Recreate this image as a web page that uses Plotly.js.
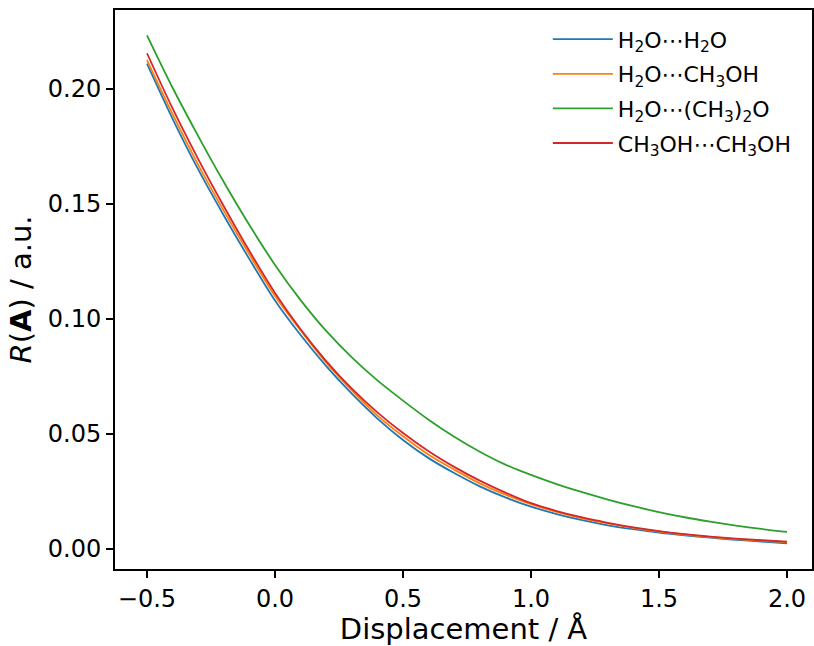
<!DOCTYPE html>
<html>
<head>
<meta charset="utf-8">
<script src="https://cdn.plot.ly/plotly-3.0.1.min.js"></script>
<style>html,body{margin:0;padding:0;background:#fff;}#chart{width:814px;height:646px;}</style>
</head>
<body>
<div id="chart"></div>
<script>
const displacement = [-0.5,-0.4,-0.3,-0.2,-0.1,0.0,0.1,0.2,0.3,0.4,0.5,0.6,0.7,0.8,0.9,1.0,1.1,1.2,1.3,1.4,1.5,1.6,1.7,1.8,1.9,2.0];

const waterWater = [0.211,0.187,0.165,0.145,0.126,0.108,0.093,0.0795,0.0675,0.0567,0.0474,0.0395,0.033,0.0272,0.0224,0.0184,0.0152,0.0125,0.0103,0.0086,0.0071,0.0059,0.0049,0.0040,0.0032,0.0025];
const waterMethanol = [0.2125,0.189,0.167,0.147,0.128,0.110,0.095,0.081,0.069,0.058,0.049,0.041,0.0345,0.0285,0.0236,0.0195,0.0161,0.0133,0.0111,0.0092,0.0076,0.0063,0.0052,0.0043,0.0036,0.0030];
const waterDME = [0.2233,0.2005,0.1795,0.1595,0.1408,0.1235,0.1082,0.0948,0.0833,0.0733,0.0645,0.0562,0.0488,0.0423,0.0367,0.0322,0.0282,0.0247,0.0215,0.0186,0.016,0.0138,0.0119,0.0102,0.0087,0.0074];
const methanolMethanol = [0.2155,0.1915,0.1695,0.149,0.1295,0.1113,0.0955,0.0817,0.0697,0.0594,0.0504,0.0425,0.0357,0.0297,0.0245,0.0199,0.0165,0.0137,0.0114,0.0094,0.0078,0.0065,0.0054,0.0045,0.0038,0.0032];

const seriesNames = [
  "H<sub>2</sub>O⋯H<sub>2</sub>O",
  "H<sub>2</sub>O⋯CH<sub>3</sub>OH",
  "H<sub>2</sub>O⋯(CH<sub>3</sub>)<sub>2</sub>O",
  "CH<sub>3</sub>OH⋯CH<sub>3</sub>OH"
];
const seriesValues = [waterWater, waterMethanol, waterDME, methanolMethanol];
const colors = ["#1f77b4","#ff7f0e","#2ca02c","#d62728"];

const xTicks = [-0.5,0.0,0.5,1.0,1.5,2.0];
const xTickText = ["−0.5","0.0","0.5","1.0","1.5","2.0"];
const yTicks = [0.00,0.05,0.10,0.15,0.20];
const yTickText = ["0.00","0.05","0.10","0.15","0.20"];

const traces = seriesValues.map((v,i)=>({
  x: displacement, y: v, type: "scatter", mode: "lines",
  name: seriesNames[i], legendgroup: "g" + i,
  line: {color: colors[i], width: 1.8, shape: "spline", smoothing: 0.8}
}));

const font = "DejaVu Sans, sans-serif";
const layout = {
  width: 814, height: 646,
  margin: {l: 115, r: 2, t: 10, b: 77},
  paper_bgcolor: "#fff", plot_bgcolor: "#fff",
  font: {family: font, color: "#000"},
  showlegend: true,
  legend: {x: 0.621, y: 0.985, xanchor: "left", yanchor: "top", bgcolor: "rgba(0,0,0,0)",
           font: {family: font, size: 22, color: "#000"}, tracegroupgap: 3,
           traceorder: "grouped", itemwidth: 60},
  xaxis: {
    range: [-0.625, 2.0977], tickmode: "array", tickvals: xTicks, ticktext: xTickText,
    ticks: "outside", ticklen: 7, tickwidth: 2, tickcolor: "#000",
    showline: true, linewidth: 2, linecolor: "#000", mirror: true,
    showgrid: false, zeroline: false,
    tickfont: {family: font, size: 24, color: "#000"},
    title: {text: "Displacement / Å", font: {family: font, size: 29, color: "#000"}, standoff: 6}
  },
  yaxis: {
    range: [-0.0087, 0.2343], tickmode: "array", tickvals: yTicks, ticktext: yTickText,
    ticks: "outside", ticklen: 7, tickwidth: 2, tickcolor: "#000",
    showline: true, linewidth: 2, linecolor: "#000", mirror: true,
    showgrid: false, zeroline: false,
    tickfont: {family: font, size: 24, color: "#000"},
    title: {text: "<i>R</i>(<b>A</b>) / a.u.", font: {family: font, size: 29, color: "#000"}, standoff: 8}
  }
};

Plotly.newPlot("chart", traces, layout, {displayModeBar: false, staticPlot: true});
</script>
</body>
</html>
